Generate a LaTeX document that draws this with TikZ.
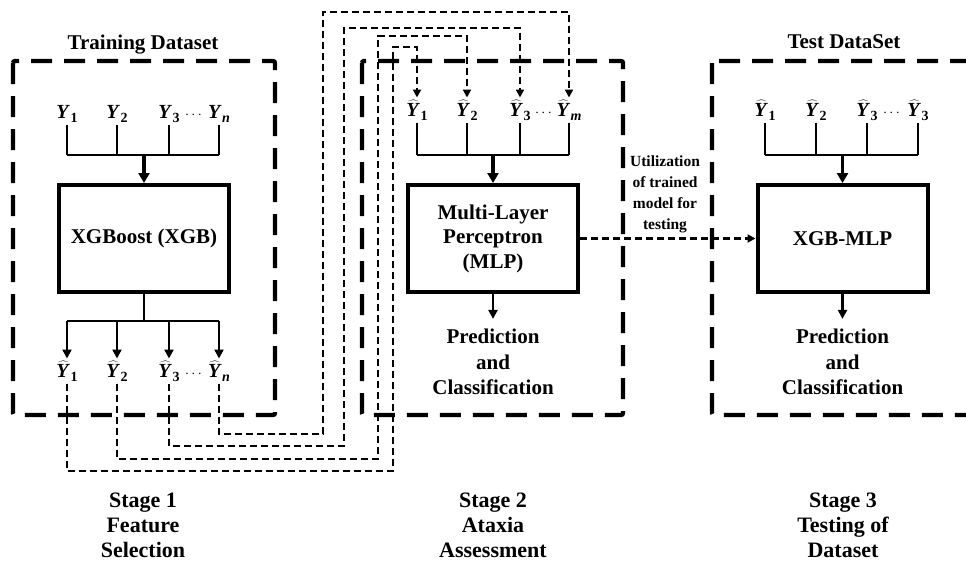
\documentclass[tikz,border=0pt]{standalone}
\usepackage{fontspec}
\setmainfont{Liberation Serif}
\usetikzlibrary{arrows.meta}
\newcommand\ysub[1]{\kern0.3pt\raisebox{-4.5pt}{\fontsize{14}{14}\selectfont\textbf{#1}}}
\newcommand\yl[1]{\textbf{\textit{Y}}\ysub{#1}}
\newcommand\yh[1]{$\widehat{\hbox{\textbf{\textit{Y}}}}$\ysub{#1}}
\newcommand\dotsl{{\fontsize{14.5}{15}\selectfont$\cdots$}}
\begin{document}
\begin{tikzpicture}[x=1pt,y=-1pt,
  bigdash/.style={line width=4.3pt, dash pattern=on 21pt off 12pt, rounded corners=2pt},
  smalldash/.style={line width=2.3pt, dash pattern=on 7pt off 4pt},
  dasharr/.style={smalldash, -{Triangle[width=8pt,length=8pt]}},
  blk/.style={draw, line width=4pt, minimum width=170pt, minimum height=107pt, inner sep=0pt,
    font=\bfseries\fontsize{21}{25}\selectfont, align=center},
  conn/.style={line width=2.8pt},
  arr/.style={line width=3.5pt, -{Triangle[width=11pt,length=10pt]}},
  sarr/.style={line width=2.5pt, -{Triangle[width=9pt,length=9pt]}},
  lab/.style={font=\fontsize{20}{22}\selectfont, inner sep=2pt, anchor=base},
  dlab/.style={font=\fontsize{20}{22}\selectfont, inner sep=0pt, anchor=base},
  txt/.style={font=\bfseries\fontsize{21}{25.5}\selectfont, align=center, inner sep=0pt},
  ttl/.style={font=\bfseries\fontsize{21}{25}\selectfont, inner sep=0pt},
  stg/.style={font=\bfseries\fontsize{22}{25}\selectfont, align=center, inner sep=0pt},
  util/.style={font=\bfseries\fontsize{15.5}{21}\selectfont, align=center, inner sep=0pt}
]
\useasboundingbox (0,0) rectangle (966,562);
\clip (0,0) rectangle (966,562);

% frames
\draw[bigdash] (13,61) rectangle (275,415);
\draw[bigdash] (362,61) rectangle (623,415);
\draw[bigdash] (712,61) rectangle (985,415);

% titles
\node[ttl] (t1) at (143,45) {Training Dataset};
\node[ttl] (t3) at (844,42) {Test DataSet};

% ---------- Stage 1 ----------
\node[lab] (ly1) at (67,118) {\yl{1}};
\node[lab] (ly2) at (117,118) {\yl{2}};
\node[lab] (ly3) at (169,118) {\yl{3}};
\node[dlab] (ld) at (193.5,118) {\dotsl};
\node[lab] (ly4) at (219,118) {\yl{\textit{n}}};
\node[blk] (xgb) at (144,238.5) {XGBoost (XGB)};
\coordinate (lbar) at (144,155);
\foreach \n in {ly1,ly2,ly3,ly4} \draw[conn] (\n.south) -- (\n.south |- lbar);
\draw[conn] (ly1.south |- lbar) -- (ly4.south |- lbar);
\draw[arr] (lbar) -- (xgb.north);

\node[lab] (hb1) at (67,377) {\yh{1}};
\node[lab] (hb2) at (117,377) {\yh{2}};
\node[lab] (hb3) at (169,377) {\yh{3}};
\node[dlab] (hbd) at (193.5,377) {\dotsl};
\node[lab] (hb4) at (219,377) {\yh{\textit{n}}};
\coordinate (lbar2) at (144,321);
\draw[conn] (xgb.south) -- (lbar2);
\draw[conn] (hb1.north |- lbar2) -- (hb4.north |- lbar2);
\foreach \n in {hb1,hb2,hb3,hb4} \draw[sarr] (\n.north |- lbar2) -- (\n.north);

% ---------- Stage 2 ----------
\node[lab] (hm1) at (417,116) {\yh{1}};
\node[lab] (hm2) at (467,116) {\yh{2}};
\node[lab] (hm3) at (520,116) {\yh{3}};
\node[dlab] (hmd) at (543.5,116) {\dotsl};
\node[lab] (hm4) at (569,116) {\yh{\textit{m}}};
\node[blk] (mlp) at (493,238.5) {Multi-Layer\\[-0.5pt]Perceptron\\[-0.5pt](MLP)};
\coordinate (mbar) at (493,155);
\foreach \n in {hm1,hm2,hm3,hm4} \draw[conn] (\n.south) -- (\n.south |- mbar);
\draw[conn] (hm1.south |- mbar) -- (hm4.south |- mbar);
\draw[arr] (mbar) -- (mlp.north);
\node[txt] (pr2) at (493,362) {Prediction\\and\\Classification};
\draw[sarr, shorten >=10pt] (mlp.south) -- (pr2.north);

% ---------- Stage 3 ----------
\node[lab] (hr1) at (765,116) {\yh{1}};
\node[lab] (hr2) at (816,116) {\yh{2}};
\node[lab] (hr3) at (867,116) {\yh{3}};
\node[dlab] (hrd) at (891.5,116) {\dotsl};
\node[lab] (hr4) at (918,116) {\yh{3}};
\node[blk] (xm) at (842.5,238.5) {XGB-MLP};
\coordinate (rbar) at (842.5,155);
\foreach \n in {hr1,hr2,hr3,hr4} \draw[conn] (\n.south) -- (\n.south |- rbar);
\draw[conn] (hr1.south |- rbar) -- (hr4.south |- rbar);
\draw[arr] (rbar) -- (xm.north);
\node[txt] (pr3) at (842.5,362) {Prediction\\and\\Classification};
\draw[sarr, shorten >=10pt] (xm.south) -- (pr3.north);

% transfer arrow
\node[util] (ut) at (665,194) {Utilization\\of trained\\model for\\testing};
\draw[dasharr] (mlp.east) -- (xm.west);

% ---------- feature routing ----------
\coordinate (r4) at (323,434); \coordinate (t4) at (0,12);
\coordinate (r3) at (344,446); \coordinate (t3) at (0,28);
\coordinate (r2) at (378,459); \coordinate (t2) at (0,36);
\coordinate (r1) at (393,471); \coordinate (t1) at (0,47);
\draw[dasharr] (hb4.south) -- (hb4.south |- r4) -- (r4) -- (r4 |- t4) -- (hm4.north |- t4) -- (hm4.north);
\draw[dasharr] (hb3.south) -- (hb3.south |- r3) -- (r3) -- (r3 |- t3) -- (hm3.north |- t3) -- (hm3.north);
\draw[dasharr] (hb2.south) -- (hb2.south |- r2) -- (r2) -- (r2 |- t2) -- (hm2.north |- t2) -- (hm2.north);
\draw[dasharr] (hb1.south) -- (hb1.south |- r1) -- (r1) -- (r1 |- t1) -- (hm1.north |- t1) -- (hm1.north);

% stages
\node[stg] (s1) at (143,525) {Stage 1\\Feature\\Selection};
\node[stg] (s2) at (493,525) {Stage 2\\Ataxia\\Assessment};
\node[stg] (s3) at (843,525) {Stage 3\\Testing of\\Dataset};
\end{tikzpicture}
\end{document}
